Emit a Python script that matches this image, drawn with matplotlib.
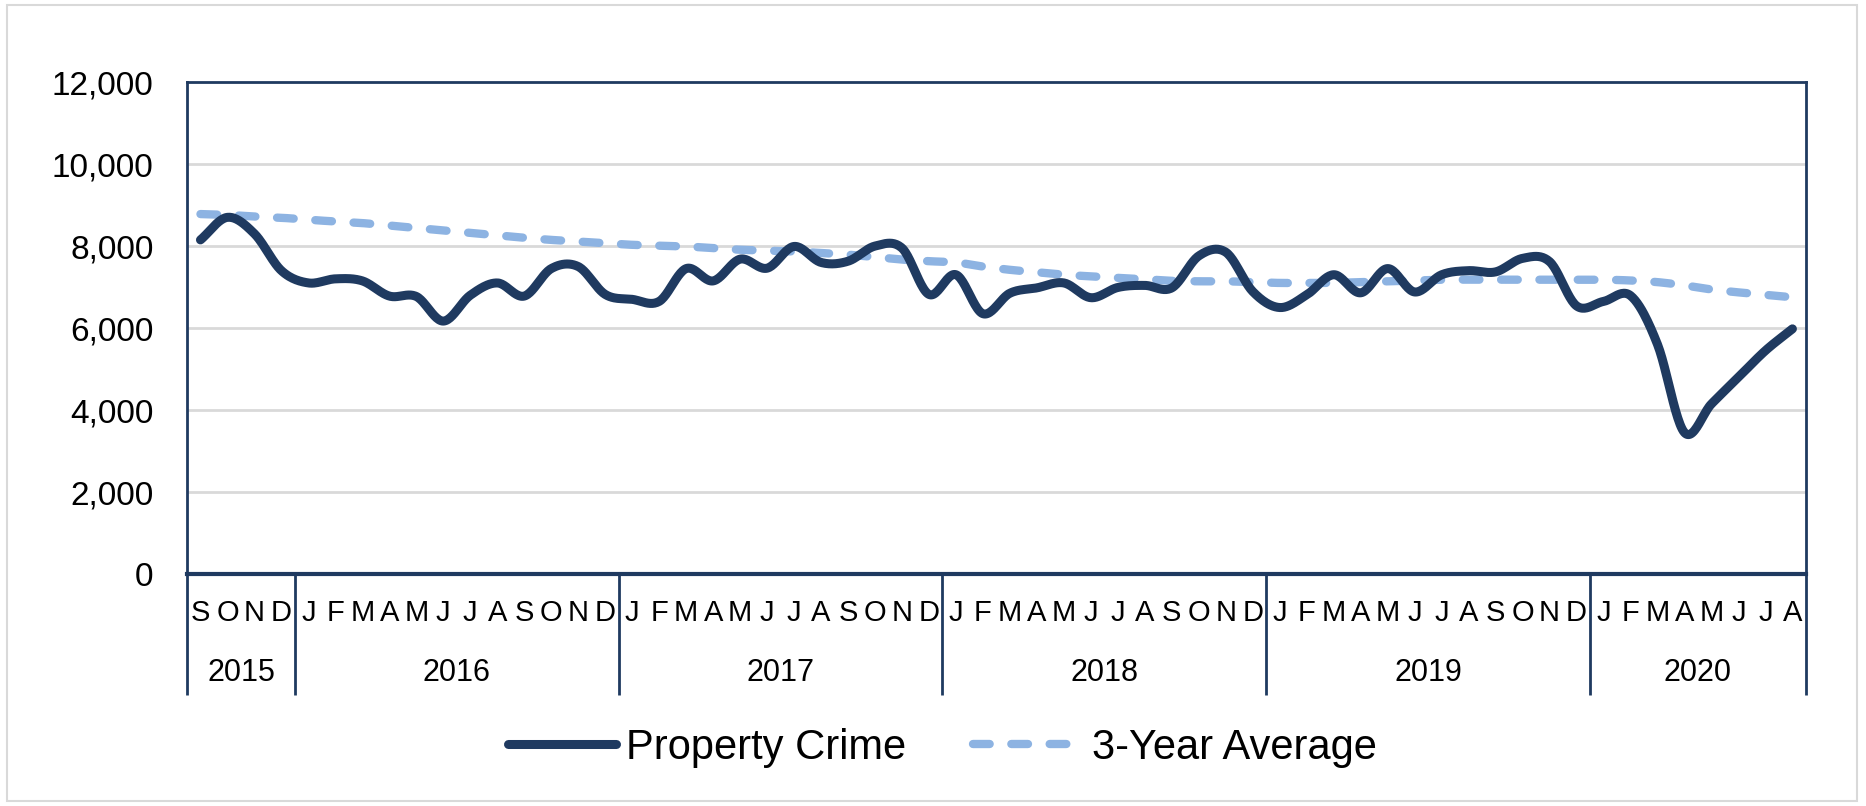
import matplotlib
matplotlib.use('Agg')
import matplotlib.pyplot as plt
from matplotlib.patches import Rectangle
import numpy as np

plt.rcParams['font.family'] = ['Liberation Sans', 'DejaVu Sans']

months = list('SOND') + list('JFMAMJJASOND') * 4 + list('JFMAMJJA')
years = ['2015', '2016', '2017', '2018', '2019', '2020']
months_in_year = [4, 12, 12, 12, 12, 8]

crime = [8150, 8700, 8300, 7400,
         7100, 7200, 7150, 6780, 6770, 6170, 6800, 7100, 6780, 7450, 7500, 6820,
         6700, 6650, 7450, 7150, 7680, 7460, 7990, 7600, 7630, 8000, 7950, 6820,
         7300, 6350, 6850, 6980, 7100, 6740, 6990, 7040, 6980, 7760, 7850, 6890,
         6500, 6810, 7300, 6860, 7450, 6880, 7300, 7400, 7370, 7700, 7620, 6540,
         6650, 6790, 5600, 3450, 4150, 4800, 5450, 5980]

avg3 = [8780, 8760, 8720, 8690,
        8640, 8600, 8560, 8500, 8440, 8380, 8320, 8260, 8200, 8150, 8110, 8070,
        8030, 8010, 7990, 7950, 7910, 7890, 7870, 7830, 7790, 7730, 7670, 7630,
        7600, 7500, 7420, 7360, 7300, 7260, 7220, 7190, 7150, 7140, 7140, 7120,
        7100, 7100, 7100, 7120, 7140, 7160, 7180, 7180, 7180, 7180, 7180, 7180,
        7180, 7160, 7120, 7040, 6940, 6870, 6810, 6750]

NAVY = '#1f3a60'
LIGHT = '#8db3e2'


def smooth(x, y, n=24):
    # catmull-rom, roughly what excel's "smoothed line" does
    x = np.asarray(x, float)
    y = np.asarray(y, float)
    px = np.concatenate([[2 * x[0] - x[1]], x, [2 * x[-1] - x[-2]]])
    py = np.concatenate([[2 * y[0] - y[1]], y, [2 * y[-1] - y[-2]]])
    t = np.linspace(0, 1, n, endpoint=False)
    xs, ys = [], []
    for i in range(len(x) - 1):
        for p, out in ((px, xs), (py, ys)):
            p0, p1, p2, p3 = p[i:i + 4]
            out.append(0.5 * (2 * p1 + (-p0 + p2) * t
                              + (2 * p0 - 5 * p1 + 4 * p2 - p3) * t ** 2
                              + (-p0 + 3 * p1 - 3 * p2 + p3) * t ** 3))
    xs.append([x[-1]])
    ys.append([y[-1]])
    return np.concatenate(xs), np.concatenate(ys)


fig = plt.figure(figsize=(18.66, 8.06), dpi=100)
fig.patches.append(Rectangle((0.004, 0.006), 0.991, 0.988, transform=fig.transFigure,
                             fill=False, edgecolor='#d9d9d9', linewidth=1.5))
ax = fig.add_axes([0.1002, 0.2878, 0.8676, 0.6104])

x = np.arange(len(months)) + 0.5
sx, sy = smooth(x, avg3)
ax.plot(sx, sy, color=LIGHT, linewidth=6, dashes=(2.0, 2.6),
        dash_capstyle='round', label='3-Year Average', zorder=3)
sx, sy = smooth(x, crime)
ax.plot(sx, sy, color=NAVY, linewidth=6.5, solid_capstyle='round',
        label='Property Crime', zorder=4)

ax.set_xlim(0, len(months))
ax.set_ylim(0, 12000)
ax.set_yticks(np.arange(0, 12001, 2000))
ax.set_yticklabels([f'{v:,}' for v in range(0, 12001, 2000)], fontsize=24)
ax.tick_params(axis='y', length=0, pad=24)
for v in range(2000, 12000, 2000):
    ax.axhline(v, color='#d9d9d9', linewidth=2, zorder=1)

bounds = np.concatenate([[0], np.cumsum(months_in_year)])
ax.set_xticks(bounds)
ax.set_xticklabels([])
ax.tick_params(axis='x', which='major', length=87, width=2, color=NAVY, direction='out')
ax.set_xticks(x, minor=True)
ax.set_xticklabels(months, minor=True, fontsize=21)
ax.tick_params(axis='x', which='minor', length=0, pad=18)

for yr, a, b in zip(years, bounds[:-1], bounds[1:]):
    ax.text((a + b) / 2, -0.202, yr, transform=ax.get_xaxis_transform(),
            ha='center', va='center', fontsize=22)

for s in ax.spines.values():
    s.set_color(NAVY)
    s.set_linewidth(2)
ax.spines['bottom'].set_linewidth(3)

h, lab = ax.get_legend_handles_labels()
fig.legend(h[::-1], lab[::-1], loc='center', bbox_to_anchor=(0.505, 0.072), ncol=2,
           frameon=False, fontsize=30, handlelength=2.6, handletextpad=0.25,
           columnspacing=1.6)

fig.savefig('out.png', dpi=100)
